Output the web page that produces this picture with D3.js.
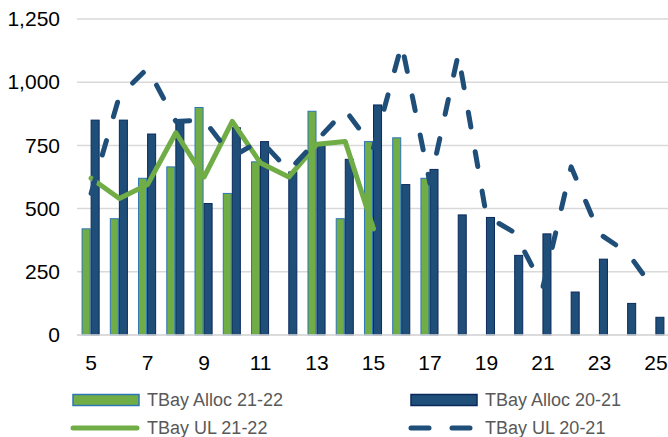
<!DOCTYPE html>
<html>
<head>
<meta charset="utf-8">
<script src="https://cdn.jsdelivr.net/npm/d3@7"></script>
<style>
  html, body { margin: 0; padding: 0; background: #fff; }
  svg { display: block; font-family: "Liberation Sans", Arial, sans-serif; }
</style>
</head>
<body>
<svg id="chart" width="668" height="437"></svg>
<script>
const weeks = [5,6,7,8,9,10,11,12,13,14,15,16,17,18,19,20,21,22,23,24,25];
const xTickLabels = [5,7,9,11,13,15,17,19,21,23,25];
const yTicks = [0,250,500,750,1000,1250];

const allocWeeks2122 = [5,6,7,8,9,10,11,12,13,14,15,16,17];
const alloc2122 = [420,460,620,665,900,560,685,null,885,460,765,780,620];
const alloc2021 = [850,850,795,850,520,820,765,645,760,695,910,595,655,475,465,315,400,170,300,125,70];

const ulWeeks2122 = [5,6,7,8,9,10,11,12,13,14,15];
const ul2122 = [620,540,595,800,625,845,680,625,755,765,420];
const ul2021 = [560,945,1055,845,850,705,770,650,770,890,740,1150,600,1110,470,405,190,665,400,325,170];

const seriesNames = ["TBay Alloc 21-22","TBay Alloc 20-21","TBay UL 21-22","TBay UL 20-21"];

const green = "#70ad47", greenEdge = "#2e75b6";
const navy = "#1f4e79", navyEdge = "#0b2a5c";

const svg = d3.select("#chart");
const plotLeft = 77, plotRight = 670, plotTop = 19, plotBottom = 335;

const x = d3.scaleBand().domain(weeks).range([plotLeft, plotRight]);
const y = d3.scaleLinear().domain([0,1250]).range([plotBottom, plotTop]);
const groupW = x.bandwidth() * 0.64;
const xs = d3.scaleBand().domain(["a","b"]).range([-groupW/2 - 0.5, groupW/2 - 0.5]);

// gridlines
svg.append("g").selectAll("line").data(yTicks).join("line")
  .attr("x1", plotLeft).attr("x2", 668)
  .attr("y1", d => y(d)).attr("y2", d => y(d))
  .attr("stroke", "#d9d9d9").attr("stroke-width", 1.5);

// y axis labels
const yAxis = d3.axisLeft(y).tickValues(yTicks).tickFormat(d3.format(",")).tickSize(0).tickPadding(0);
const gy = svg.append("g").attr("transform", `translate(60,0)`).call(yAxis);
gy.select(".domain").remove();
gy.selectAll("text").attr("font-size", 21).attr("fill", "#000").attr("font-family", "Liberation Sans, Arial, sans-serif");

// x axis labels
const xAxis = d3.axisBottom(x).tickValues(xTickLabels).tickSize(0).tickPadding(0);
const gx = svg.append("g").attr("transform", `translate(0,${plotBottom})`).call(xAxis);
gx.select(".domain").remove();
gx.selectAll("text").attr("font-size", 21).attr("fill", "#000").attr("dy", null).attr("y", 35)
  .attr("font-family", "Liberation Sans, Arial, sans-serif");

// bars
const cx = w => x(w) + x.bandwidth()/2;
const bw = xs.bandwidth();
svg.append("g").selectAll("rect")
  .data(allocWeeks2122.map((w,i) => ({w, v: alloc2122[i]})).filter(d => d.v != null))
  .join("rect")
  .attr("x", d => cx(d.w) + xs("a") + 0.5)
  .attr("y", d => y(d.v))
  .attr("width", bw - 1)
  .attr("height", d => y(0) - y(d.v))
  .attr("fill", green).attr("stroke", greenEdge).attr("stroke-width", 1);
svg.append("g").selectAll("rect")
  .data(weeks.map((w,i) => ({w, v: alloc2021[i]})))
  .join("rect")
  .attr("x", d => cx(d.w) + xs("b") + 0.5)
  .attr("y", d => y(d.v))
  .attr("width", bw - 1)
  .attr("height", d => y(0) - y(d.v))
  .attr("fill", navy).attr("stroke", navyEdge).attr("stroke-width", 1);

// baseline
svg.append("line").attr("x1", plotLeft).attr("x2", 668).attr("y1", y(0)).attr("y2", y(0))
  .attr("stroke", "#d9d9d9").attr("stroke-width", 1.5);

// lines
const line = d3.line().x(d => cx(d.w)).y(d => y(d.v));
svg.append("path")
  .datum(ulWeeks2122.map((w,i) => ({w, v: ul2122[i]})))
  .attr("d", line).attr("fill", "none").attr("stroke", green)
  .attr("stroke-width", 5).attr("stroke-linejoin", "round").attr("stroke-linecap", "round");
svg.append("path")
  .datum(weeks.map((w,i) => ({w, v: ul2021[i]})))
  .attr("d", line).attr("fill", "none").attr("stroke", navy)
  .attr("stroke-width", 5).attr("stroke-linejoin", "round").attr("stroke-linecap", "round")
  .attr("stroke-dasharray", "15,25");

// legend
const lg = svg.append("g").attr("font-size", 18).attr("fill", "#595959");
const legendItems = [
  {name: seriesNames[0], type: "rect", fill: green, stroke: greenEdge, x: 73, y: 400},
  {name: seriesNames[1], type: "rect", fill: navy, stroke: navyEdge, x: 411, y: 400},
  {name: seriesNames[2], type: "line", stroke: green, dash: null, x: 73, y: 428},
  {name: seriesNames[3], type: "line", stroke: navy, dash: "18,23", x: 411, y: 428}
];
legendItems.forEach(it => {
  if (it.type === "rect") {
    lg.append("rect").attr("x", it.x).attr("y", it.y - 5.5).attr("width", 66).attr("height", 11)
      .attr("fill", it.fill).attr("stroke", it.stroke).attr("stroke-width", 1.5);
  } else {
    lg.append("line").attr("x1", it.x).attr("x2", it.x + 64).attr("y1", it.y).attr("y2", it.y)
      .attr("stroke", it.stroke).attr("stroke-width", 5).attr("stroke-linecap", "round")
      .attr("stroke-dasharray", it.dash);
  }
  lg.append("text").attr("x", it.x + 74).attr("y", it.y).attr("dy", "0.35em").text(it.name);
});
</script>
</body>
</html>
